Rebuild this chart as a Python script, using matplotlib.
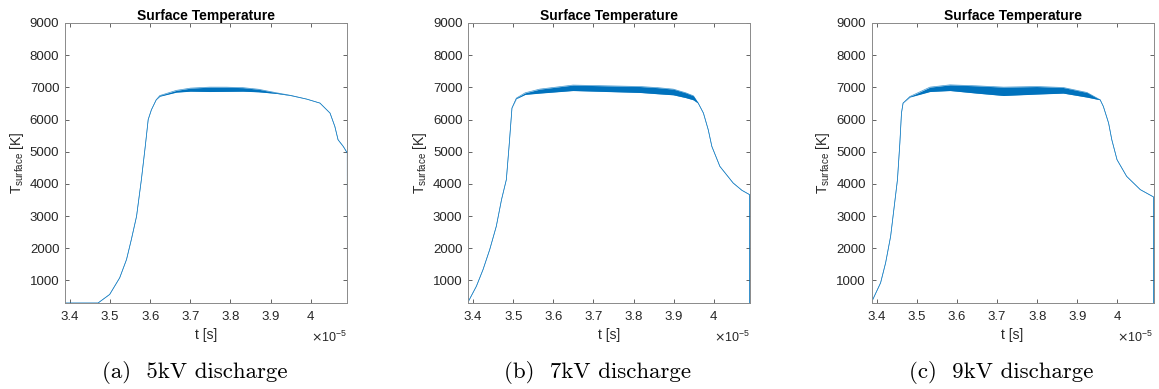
import matplotlib
matplotlib.use("Agg")
import matplotlib.pyplot as plt
import numpy as np
from matplotlib.ticker import FuncFormatter

# time in units of 1e-5 s, temperature in K.
# hi / lo are the upper and lower edge of the oscillating band
t_a = [3.387, 3.47, 3.482, 3.499, 3.524, 3.541, 3.553, 3.566, 3.578, 3.588, 3.595,
       3.603, 3.615, 3.624, 3.665, 3.70, 3.748, 3.79, 3.831, 3.87, 3.915, 3.95,
       3.99, 4.023, 4.048, 4.06, 4.068, 4.081, 4.091, 4.0912]
hi_a = [300, 300, 411, 566, 1084, 1651, 2271, 2994, 4132, 5200, 6000,
        6302, 6612, 6745, 6905, 6975, 7006, 7005, 6990, 6940, 6830, 6750,
        6634, 6510, 6200, 5785, 5372, 5164, 4960, 0]
lo_a = [300, 300, 411, 566, 1084, 1651, 2271, 2994, 4132, 5200, 6000,
        6302, 6612, 6725, 6850, 6880, 6870, 6875, 6880, 6860, 6810, 6745,
        6634, 6510, 6200, 5785, 5372, 5164, 4960, 0]

t_b = [3.3875, 3.4085, 3.425, 3.4416, 3.458, 3.471, 3.483, 3.49, 3.497, 3.508,
       3.53, 3.566, 3.649, 3.733, 3.816, 3.86, 3.899, 3.93, 3.949, 3.961, 3.974,
       3.986, 3.995, 4.015, 4.048, 4.07, 4.089, 4.0892]
hi_b = [327, 824, 1341, 1961, 2684, 3512, 4132, 5200, 6355, 6665,
        6830, 6944, 7070, 7047, 7025, 6990, 6944, 6830, 6736, 6510, 6200,
        5682, 5164, 4544, 4029, 3800, 3667, 0]
lo_b = [327, 824, 1341, 1961, 2684, 3512, 4132, 5200, 6355, 6650,
        6780, 6820, 6900, 6870, 6840, 6800, 6767, 6680, 6612, 6510, 6200,
        5682, 5164, 4544, 4029, 3800, 3667, 0]

t_c = [3.3875, 3.41, 3.4225, 3.435, 3.443, 3.452, 3.458, 3.462, 3.466, 3.483,
       3.533, 3.583, 3.649, 3.716, 3.799, 3.865, 3.924, 3.957, 3.965, 3.978,
       3.986, 3.999, 4.023, 4.057, 4.09, 4.0902]
hi_c = [327, 928, 1548, 2374, 3202, 4132, 5275, 6200, 6510, 6715,
        7006, 7077, 7047, 7006, 7025, 6995, 6840, 6612, 6405, 5890,
        5372, 4752, 4234, 3822, 3595, 0]
lo_c = [327, 928, 1548, 2374, 3202, 4132, 5275, 6200, 6510, 6700,
        6870, 6900, 6820, 6746, 6790, 6820, 6696, 6612, 6405, 5890,
        5372, 4752, 4234, 3822, 3595, 0]

captions = ["(a)  5kV discharge", "(b)  7kV discharge", "(c)  9kV discharge"]
lefts = [0.056, 0.4038, 0.752]
caption_x = [195, 597, 1001]

plt.rcParams['font.family'] = ['Liberation Sans', 'DejaVu Sans']

fig = plt.figure(figsize=(11.59, 3.89), dpi=100)
blue = '#0072BD'
axcol = '#262626'

panels = [(t_a, hi_a, lo_a), (t_b, hi_b, lo_b), (t_c, hi_c, lo_c)]
for i, (t, hi, lo) in enumerate(panels):
    ax = fig.add_axes([lefts[i], 0.221, 0.2433, 0.72])
    t = np.array(t)
    ax.fill_between(t, lo, hi, color=blue, lw=0)
    ax.plot(t, hi, color=blue, lw=0.5, alpha=0.75)
    ax.plot(t, lo, color=blue, lw=0.5, alpha=0.75)
    ax.set_xlim(3.3875, 4.09)
    ax.set_ylim(300, 9000)
    ax.set_xticks([3.4, 3.5, 3.6, 3.7, 3.8, 3.9, 4.0])
    ax.set_yticks(range(1000, 9001, 1000))
    ax.xaxis.set_major_formatter(FuncFormatter(lambda v, p: f'{v:g}'))
    ax.tick_params(direction='in', length=3, width=0.5, top=True, right=True,
                   labelsize=9.5, colors=axcol, pad=4)
    ax.tick_params(axis='x', pad=6)
    for s in ax.spines.values():
        s.set_color('#8a8a8a')
        s.set_linewidth(0.7)
    ax.set_title('Surface Temperature', fontsize=10, fontweight='bold', pad=2)
    ax.set_xlabel('t [s]', fontsize=10, color=axcol, labelpad=3)
    ax.set_ylabel('T$_{\\mathregular{surface}}$ [K]', fontsize=10, color=axcol, labelpad=3)
    ax.text(1.0, -0.095, '$\\times$10$^{\\mathregular{-5}}$', transform=ax.transAxes,
            ha='right', va='top', fontsize=9, color=axcol)
    fig.text(caption_x[i] / 1159, 1 - 372 / 389, captions[i], ha='center', va='center',
             fontsize=16.5, family='cmr10')

fig.savefig('out.png', dpi=100)
